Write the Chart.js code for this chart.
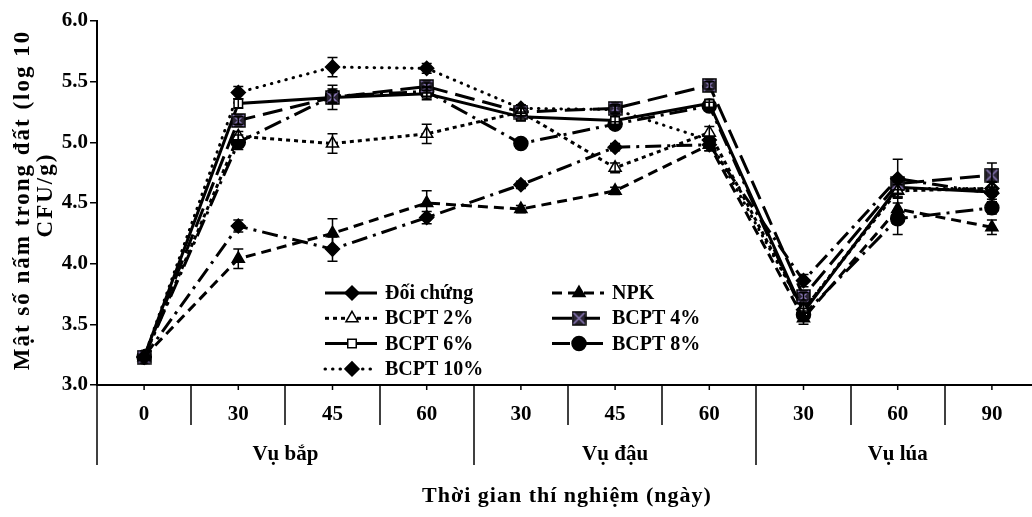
<!DOCTYPE html>
<html>
<head>
<meta charset="utf-8">
<script src="https://cdn.jsdelivr.net/npm/chart.js@4"></script>
<style>
  body { margin: 0; background: #fff; overflow: hidden; }
</style>
</head>
<body>
<canvas id="myChart" width="1050" height="517"></canvas>
<script>
// ngày lấy mẫu, 3 vụ
const days = ['0', '30', '45', '60', '30', '45', '60', '30', '60', '90'];
const seasons = ['Vụ bắp', 'Vụ đậu', 'Vụ lúa'];
const seasonStart = [0, 4, 7];
const names = ['Đối chứng', 'NPK', 'BCPT 2%', 'BCPT 4%', 'BCPT 6%', 'BCPT 8%', 'BCPT 10%'];

const doiChung = [3.23, 4.31, 4.12, 4.38, 4.65, 4.96, 4.98, 3.86, 4.70, 4.58];
const npk      = [3.23, 4.04, 4.25, 4.50, 4.45, 4.60, 4.98, 3.55, 4.45, 4.30];
const bcpt2    = [3.23, 5.05, 4.99, 5.07, 5.25, 4.79, 5.08, 3.62, 4.60, 4.62];
const bcpt4    = [3.23, 5.18, 5.37, 5.46, 5.25, 5.28, 5.47, 3.73, 4.66, 4.73];
const bcpt6    = [3.23, 5.32, 5.37, 5.40, 5.21, 5.18, 5.32, 3.60, 4.63, 4.59];
const bcpt8    = [3.23, 5.00, 5.38, 5.42, 4.99, 5.15, 5.30, 3.58, 4.37, 4.46];
const bcpt10   = [3.23, 5.41, 5.62, 5.61, 5.28, 5.27, 5.02, 3.62, 4.62, 4.62];

// sai số
const errDoi = [0, 0.05, 0.10, 0.05, 0.03, 0.03, 0.05, 0.05, 0.16, 0.05];
const errNpk = [0, 0.08, 0.12, 0.10, 0.03, 0.03, 0.05, 0.05, 0.10, 0.06];
const err2   = [0, 0.04, 0.08, 0.08, 0.03, 0.04, 0.05, 0.05, 0.05, 0.05];
const err4   = [0, 0.03, 0.04, 0.03, 0.03, 0.03, 0.03, 0.03, 0.05, 0.10];
const err6   = [0, 0.04, 0.10, 0.05, 0.03, 0.03, 0.03, 0.03, 0.05, 0.08];
const err8   = [0, 0.06, 0.06, 0.04, 0.02, 0.02, 0.03, 0.03, 0.13, 0.05];
const err10  = [0, 0.05, 0.08, 0.04, 0.03, 0.03, 0.03, 0.05, 0.05, 0.05];

const FONT = "'Liberation Serif', 'Times New Roman', serif";

// marker hình vuông có dấu X tím
const xBox = document.createElement('canvas');
xBox.width = 15; xBox.height = 15;
(function () {
  const c = xBox.getContext('2d');
  c.fillStyle = '#2a2533';
  c.fillRect(1, 1, 13, 13);
  c.strokeStyle = '#000';
  c.lineWidth = 1.5;
  c.strokeRect(1, 1, 13, 13);
  c.strokeStyle = '#8a78b8';
  c.lineWidth = 1.5;
  c.beginPath();
  c.moveTo(2, 2); c.lineTo(13, 13);
  c.moveTo(13, 2); c.lineTo(2, 13);
  c.stroke();
})();

function ds(label, data, err, dash, style, fill, radius, cap, legendDash) {
  return {
    label: label,
    data: data,
    err: err,
    legendDash: legendDash || dash,
    borderColor: '#000',
    borderWidth: 3,
    borderDash: dash,
    borderCapStyle: cap || 'butt',
    pointStyle: style,
    pointRadius: radius,
    pointBackgroundColor: fill,
    pointBorderColor: '#000',
    pointBorderWidth: 1.5,
    tension: 0,
    fill: false
  };
}

const datasets = [
  ds(names[0], doiChung, errDoi, [16, 6, 3, 6], 'rectRot', '#000', 7, 'butt', []),
  ds(names[1], npk, errNpk, [10, 6], 'triangle', '#000', 7),
  ds(names[2], bcpt2, err2, [4, 4], 'triangle', '#fff', 7),
  ds(names[3], bcpt4, err4, [20, 8], xBox, '#000', 7),
  ds(names[4], bcpt6, err6, [], 'rect', '#fff', 6),
  ds(names[5], bcpt8, err8, [18, 6, 3, 6], 'circle', '#000', 7),
  ds(names[6], bcpt10, err10, [0.5, 7], 'rectRot', '#000', 7, 'round')
];

const errorBars = {
  id: 'errorBars',
  afterDatasetsDraw(chart) {
    const c = chart.ctx, y = chart.scales.y;
    c.save();
    c.strokeStyle = '#000';
    c.lineWidth = 1.5;
    c.setLineDash([]);
    chart.data.datasets.forEach((d, i) => {
      const meta = chart.getDatasetMeta(i);
      d.data.forEach((v, j) => {
        const e = d.err[j];
        if (!e) return;
        const x = meta.data[j].x;
        const y1 = y.getPixelForValue(v - e), y2 = y.getPixelForValue(v + e);
        c.beginPath();
        c.moveTo(x, y1); c.lineTo(x, y2);
        c.moveTo(x - 5, y1); c.lineTo(x + 5, y1);
        c.moveTo(x - 5, y2); c.lineTo(x + 5, y2);
        c.stroke();
      });
    });
    c.restore();
  }
};

const decor = {
  id: 'decor',
  afterDraw(chart) {
    const c = chart.ctx, xs = chart.scales.x, a = chart.chartArea;
    const w = xs.getPixelForValue(1) - xs.getPixelForValue(0);
    c.save();
    c.strokeStyle = '#000';
    c.lineWidth = 1.5;
    c.setLineDash([]);
    // vạch chia ngày và vụ
    for (let i = 0; i <= days.length; i++) {
      const x = Math.round(xs.getPixelForValue(0) - w / 2 + i * w);
      const big = seasonStart.includes(i);
      c.beginPath();
      c.moveTo(x, a.bottom);
      c.lineTo(x, big ? a.bottom + 80 : a.bottom + 40);
      c.stroke();
    }
    for (let i = 0; i < days.length; i++) {
      const x = xs.getPixelForValue(i);
      c.beginPath();
      c.moveTo(x, a.bottom); c.lineTo(x, a.bottom + 5);
      c.stroke();
    }
    // tên vụ
    c.fillStyle = '#000';
    c.font = 'bold 21px ' + FONT;
    c.textAlign = 'center';
    c.textBaseline = 'middle';
    seasons.forEach((s, k) => {
      const i0 = seasonStart[k];
      const i1 = k + 1 < seasonStart.length ? seasonStart[k + 1] : days.length;
      const x = xs.getPixelForValue(0) - w / 2 + (i0 + i1) / 2 * w;
      c.fillText(s, x, a.bottom + 70);
    });
    // tiêu đề trục
    c.font = 'bold 22px ' + FONT;
    c.letterSpacing = '1px';
    c.fillText('Thời gian thí nghiệm (ngày)', 567, 496);
    c.save();
    c.font = 'bold 23px ' + FONT;
    c.letterSpacing = '2px';
    c.translate(23, 200);
    c.rotate(-Math.PI / 2);
    c.fillText('Mật số nấm trong đất (log 10', 0, 0);
    c.fillText('CFU/g)', 5, 23);
    c.restore();
    c.letterSpacing = '0px';
    // chú thích
    c.font = 'bold 20px ' + FONT;
    c.textAlign = 'left';
    chart.data.datasets.forEach((d, i) => {
      const x0 = i % 2 ? 552 : 325;
      const y0 = 293 + Math.floor(i / 2) * 25.3;
      c.save();
      c.strokeStyle = '#000';
      c.lineWidth = 3;
      c.lineCap = d.borderCapStyle;
      c.setLineDash(d.legendDash);
      c.beginPath();
      c.moveTo(x0, y0); c.lineTo(x0 + 52, y0);
      c.stroke();
      c.restore();
      c.fillStyle = d.pointBackgroundColor;
      c.strokeStyle = '#000';
      c.lineWidth = 1.5;
      Chart.helpers.drawPoint(c, {
        pointStyle: d.pointStyle, radius: d.pointRadius, borderWidth: 1.5, rotation: 0
      }, x0 + 27, y0);
      c.fillStyle = '#000';
      c.fillText(d.label, x0 + 60, y0 + 1);
    });
    c.restore();
  }
};

new Chart(document.getElementById('myChart'), {
  type: 'line',
  data: { labels: days, datasets: datasets },
  plugins: [errorBars, decor],
  options: {
    responsive: false,
    animation: false,
    layout: { padding: { top: 21, right: 11, left: 0, bottom: 0 } },
    plugins: { legend: { display: false }, tooltip: { enabled: false } },
    scales: {
      x: {
        offset: true,
        grid: { display: false },
        border: { color: '#000', width: 2 },
        ticks: { color: '#000', font: { family: FONT, size: 21, weight: 'bold' }, padding: 9, maxRotation: 0 },
        afterFit: s => { s.height = 132; }
      },
      y: {
        min: 3, max: 6,
        grid: { drawOnChartArea: false, tickLength: 7, color: '#000', lineWidth: 1.5 },
        border: { color: '#000', width: 2 },
        ticks: { stepSize: 0.5, color: '#000', font: { family: FONT, size: 21, weight: 'bold' }, padding: 2,
                 callback: v => v.toFixed(1) },
        afterFit: s => { s.width = 97; }
      }
    }
  }
});
</script>
</body>
</html>
